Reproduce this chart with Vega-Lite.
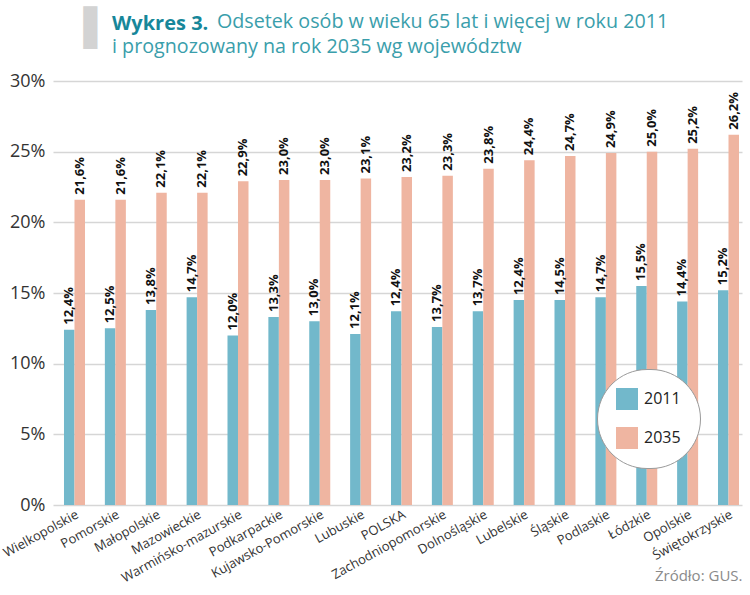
{
  "$schema": "https://vega.github.io/schema/vega-lite/v6.json",
  "width": 689,
  "height": 424,
  "autosize": "none",
  "padding": {"left": 53, "top": 81, "right": 8, "bottom": 90},
  "background": "white",
  "title": {
    "text": "Wykres 3.",
    "subtitle": ["\u2800\u2800\u2800\u2800\u2800\u2800\u2800Odsetek osób w wieku 65 lat i więcej w roku 2011", "i prognozowany na rok 2035 wg województw"],
    "anchor": "start",
    "frame": "group",
    "dx": 59,
    "dy": 63,
    "font": "Open Sans",
    "fontSize": 20,
    "fontWeight": "bold",
    "color": "#17879a",
    "subtitleFont": "Open Sans",
    "subtitleFontSize": 19.7,
    "subtitleColor": "#3a9eab",
    "subtitleLineHeight": 25,
    "subtitlePadding": -22,
    "offset": 14
  },
  "data": {
    "values": [
      {"region": "Wielkopolskie", "rok": "2011", "value": 12.4, "label": "12,4%"},
      {"region": "Wielkopolskie", "rok": "2035", "value": 21.6, "label": "21,6%"},
      {"region": "Pomorskie", "rok": "2011", "value": 12.5, "label": "12,5%"},
      {"region": "Pomorskie", "rok": "2035", "value": 21.6, "label": "21,6%"},
      {"region": "Małopolskie", "rok": "2011", "value": 13.8, "label": "13,8%"},
      {"region": "Małopolskie", "rok": "2035", "value": 22.1, "label": "22,1%"},
      {"region": "Mazowieckie", "rok": "2011", "value": 14.7, "label": "14,7%"},
      {"region": "Mazowieckie", "rok": "2035", "value": 22.1, "label": "22,1%"},
      {"region": "Warmińsko-mazurskie", "rok": "2011", "value": 12.0, "label": "12,0%"},
      {"region": "Warmińsko-mazurskie", "rok": "2035", "value": 22.9, "label": "22,9%"},
      {"region": "Podkarpackie", "rok": "2011", "value": 13.3, "label": "13,3%"},
      {"region": "Podkarpackie", "rok": "2035", "value": 23.0, "label": "23,0%"},
      {"region": "Kujawsko-Pomorskie", "rok": "2011", "value": 13.0, "label": "13,0%"},
      {"region": "Kujawsko-Pomorskie", "rok": "2035", "value": 23.0, "label": "23,0%"},
      {"region": "Lubuskie", "rok": "2011", "value": 12.1, "label": "12,1%"},
      {"region": "Lubuskie", "rok": "2035", "value": 23.1, "label": "23,1%"},
      {"region": "POLSKA", "rok": "2011", "value": 13.7, "label": "12,4%"},
      {"region": "POLSKA", "rok": "2035", "value": 23.2, "label": "23,2%"},
      {"region": "Zachodniopomorskie", "rok": "2011", "value": 12.6, "label": "13,7%"},
      {"region": "Zachodniopomorskie", "rok": "2035", "value": 23.3, "label": "23,3%"},
      {"region": "Dolnośląskie", "rok": "2011", "value": 13.7, "label": "13,7%"},
      {"region": "Dolnośląskie", "rok": "2035", "value": 23.8, "label": "23,8%"},
      {"region": "Lubelskie", "rok": "2011", "value": 14.5, "label": "12,4%"},
      {"region": "Lubelskie", "rok": "2035", "value": 24.4, "label": "24,4%"},
      {"region": "Śląskie", "rok": "2011", "value": 14.5, "label": "14,5%"},
      {"region": "Śląskie", "rok": "2035", "value": 24.7, "label": "24,7%"},
      {"region": "Podlaskie", "rok": "2011", "value": 14.7, "label": "14,7%"},
      {"region": "Podlaskie", "rok": "2035", "value": 24.9, "label": "24,9%"},
      {"region": "Łódzkie", "rok": "2011", "value": 15.5, "label": "15,5%"},
      {"region": "Łódzkie", "rok": "2035", "value": 25.0, "label": "25,0%"},
      {"region": "Opolskie", "rok": "2011", "value": 14.4, "label": "14,4%"},
      {"region": "Opolskie", "rok": "2035", "value": 25.2, "label": "25,2%"},
      {"region": "Świętokrzyskie", "rok": "2011", "value": 15.2, "label": "15,2%"},
      {"region": "Świętokrzyskie", "rok": "2035", "value": 26.2, "label": "26,2%"}
    ]
  },
  "encoding": {
    "x": {
      "field": "region",
      "type": "nominal",
      "sort": null,
      "scale": {"paddingInner": 0.486, "paddingOuter": 0.171, "align": 0.786},
      "axis": {
        "title": "Źródło: GUS.",
        "titleFont": "Open Sans",
        "titleFontSize": 15,
        "titleFontWeight": "normal",
        "titleColor": "#8a8a8a",
        "titleAnchor": "end",
        "titleAlign": "right",
        "titleX": 689,
        "titleY": 75,
        "titleBaseline": "alphabetic",
        "labelAngle": -29,
        "labelAlign": "right",
        "labelBaseline": "top",
        "labelFont": "Open Sans",
        "labelFontSize": 13,
        "labelColor": "#333333",
        "labelPadding": 3,
        "ticks": false,
        "domain": false,
        "grid": false
      }
    },
    "xOffset": {"field": "rok", "type": "nominal", "scale": {"paddingInner": 0, "paddingOuter": 0}},
    "y": {
      "field": "value",
      "type": "quantitative",
      "scale": {"domain": [0, 30], "nice": false},
      "axis": {
        "title": "▌",
        "titleFont": "DejaVu Sans",
        "titleFontSize": 36,
        "titleFontWeight": "normal",
        "titleColor": "#d3d3d3",
        "titleAngle": 0,
        "titleAlign": "left",
        "titleBaseline": "alphabetic",
        "titleX": 30,
        "titleY": -42,
        "values": [0, 5, 10, 15, 20, 25, 30],
        "labelExpr": "datum.value + '%'",
        "labelFont": "Open Sans",
        "labelFontSize": 18,
        "labelColor": "#333333",
        "labelPadding": 8,
        "ticks": false,
        "domain": false,
        "grid": true,
        "gridColor": "#d6d6d6",
        "gridWidth": 1.5
      }
    }
  },
  "layer": [
    {
      "mark": {"type": "bar", "width": {"band": 1}},
      "encoding": {
        "color": {
          "field": "rok",
          "type": "nominal",
          "scale": {"domain": ["2011", "2035"], "range": ["#72b8cb", "#efb5a1"]},
          "legend": {
            "title": null,
            "orient": "none",
            "legendX": 544,
            "legendY": 288,
            "direction": "vertical",
            "symbolType": "square",
            "symbolSize": 484,
            "symbolStrokeWidth": 0,
            "clipHeight": 22,
            "labelFont": "Open Sans",
            "labelFontSize": 16,
            "labelColor": "#222222",
            "labelOffset": 6,
            "rowPadding": 17,
            "padding": 19,
            "fillColor": "white",
            "strokeColor": "#9a9a9a",
            "cornerRadius": 49.5
          }
        }
      }
    },
    {
      "mark": {"type": "text", "angle": 270, "align": "left", "baseline": "middle", "dx": 5, "font": "Open Sans", "fontSize": 13, "fontWeight": "bold", "color": "#111111"},
      "encoding": {
        "text": {"field": "label"}
      }
    }
  ],
  "config": {
    "view": {"stroke": null},
    "font": "Open Sans"
  }
}
